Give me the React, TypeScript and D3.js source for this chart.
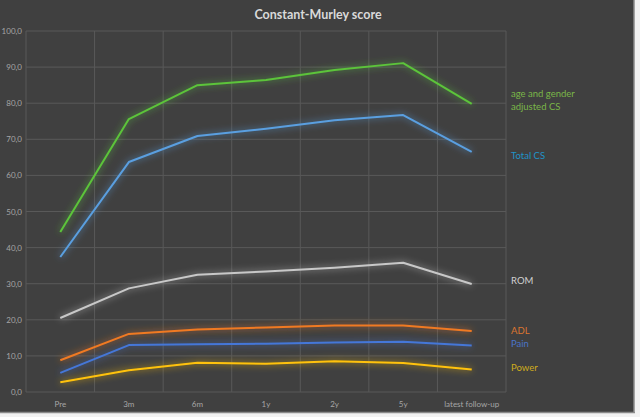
import React from "react";
import * as d3 from "d3";

const categories = ["Pre", "3m", "6m", "1y", "2y", "5y", "latest follow-up"];
const yTicks = [0, 10, 20, 30, 40, 50, 60, 70, 80, 90, 100];

const adjustedCS = [44.3, 75.6, 85.0, 86.4, 89.2, 91.1, 79.8];
const totalCS = [37.4, 63.7, 70.9, 72.9, 75.3, 76.7, 66.5];
const rom = [20.5, 28.7, 32.5, 33.4, 34.4, 35.8, 29.9];
const adl = [8.8, 16.1, 17.3, 17.9, 18.4, 18.4, 16.9];
const pain = [5.3, 13.0, 13.2, 13.4, 13.7, 13.9, 12.9];
const power = [2.7, 6.0, 8.1, 7.8, 8.5, 8.0, 6.2];

const seriesList = [
  { key: "adj", values: adjustedCS, color: "#5cc43a", labelColor: "#7ab648", label: ["age and gender", "adjusted CS"], labelY: 97 },
  { key: "tot", values: totalCS, color: "#5a9fe0", labelColor: "#1f93c8", label: ["Total CS"], labelY: 159 },
  { key: "rom", values: rom, color: "#c8c8c8", labelColor: "#d0d0d0", label: ["ROM"], labelY: 284 },
  { key: "adl", values: adl, color: "#f07a22", labelColor: "#dd7530", label: ["ADL"], labelY: 334 },
  { key: "pain", values: pain, color: "#4577d8", labelColor: "#4a74c8", label: ["Pain"], labelY: 347 },
  { key: "pow", values: power, color: "#ffc20a", labelColor: "#cfac1c", label: ["Power"], labelY: 371 },
];

const W = 640;
const H = 417;
const left = 26;
const right = 506;
const top = 31;
const bottom = 392;

export default function App() {
  const x = d3.scaleBand<string>().domain(categories).range([left, right]);
  const y = d3.scaleLinear().domain([0, 100]).range([bottom, top]);
  const line = d3
    .line<number>()
    .x((_, i) => (x(categories[i]) as number) + x.bandwidth() / 2)
    .y((d) => y(d));
  const font = "Lato, 'Open Sans', sans-serif";
  const bounds = [...categories.map((c) => x(c) as number), right];

  return (
    <svg
      width={W}
      height={H}
      style={{ position: "absolute", left: 0, top: 0, display: "block" }}
    >
      <defs>
        <filter id="glow" x="-10%" y="-50%" width="120%" height="200%">
          <feGaussianBlur in="SourceGraphic" stdDeviation="3.5" result="b" />
          <feComponentTransfer in="b" result="b2">
            <feFuncA type="linear" slope="0.85" />
          </feComponentTransfer>
          <feMerge>
            <feMergeNode in="b2" />
            <feMergeNode in="SourceGraphic" />
          </feMerge>
        </filter>
      </defs>
      <rect x={0} y={0} width={W} height={H} fill="#f2f2f2" />
      <rect x={0} y={0} width={634} height={412} fill="#404040" />
      <line x1={634} x2={634} y1={0} y2={413} stroke="#8a8a8a" strokeWidth={1.5} />
      <line x1={0} x2={635} y1={412.5} y2={412.5} stroke="#8a8a8a" strokeWidth={1.5} />

      {yTicks.map((t) => (
        <line key={"h" + t} x1={left} x2={right} y1={y(t)} y2={y(t)} stroke="#595959" strokeWidth={1} />
      ))}
      {bounds.map((b, i) => (
        <line key={"v" + i} x1={b} x2={b} y1={top} y2={bottom} stroke="#595959" strokeWidth={1} />
      ))}

      {yTicks.map((t) => (
        <text
          key={"yl" + t}
          x={22}
          y={y(t) + 3}
          textAnchor="end"
          fontSize={8}
          fill="#a6a6a6"
          fontFamily={font}
        >
          {t.toFixed(1).replace(".", ",")}
        </text>
      ))}
      {categories.map((c) => (
        <text
          key={"xl" + c}
          x={(x(c) as number) + x.bandwidth() / 2}
          y={407}
          textAnchor="middle"
          fontSize={8}
          fill="#a6a6a6"
          fontFamily={font}
        >
          {c}
        </text>
      ))}

      <text
        x={318}
        y={19}
        textAnchor="middle"
        fontSize={12.5}
        fontWeight="bold"
        fill="#d9d9d9"
        fontFamily={font}
      >
        Constant-Murley score
      </text>

      {seriesList.map((s) => (
        <path
          key={s.key}
          d={line(s.values) as string}
          fill="none"
          stroke={s.color}
          strokeWidth={2}
          strokeLinejoin="round"
          filter="url(#glow)"
        />
      ))}

      {seriesList.map((s) =>
        s.label.map((l, i) => (
          <text
            key={s.key + i}
            x={511}
            y={s.labelY + i * 12.5}
            fontSize={9.5}
            fill={s.labelColor}
            fontFamily={font}
          >
            {l}
          </text>
        ))
      )}
    </svg>
  );
}
